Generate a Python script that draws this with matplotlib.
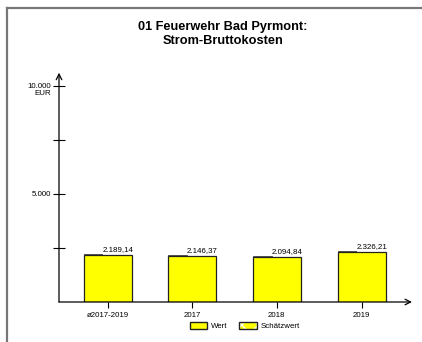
import matplotlib
matplotlib.use('Agg')
import matplotlib.pyplot as plt
from matplotlib.patches import Patch
from matplotlib.lines import Line2D

plt.rcParams['font.family'] = ['Liberation Sans', 'DejaVu Sans']

# Daten
kategorien = ['ø2017-2019', '2017', '2018', '2019']
werte = [2189.14, 2146.37, 2094.84, 2326.21]
wert_labels = ['2.189,14', '2.146,37', '2.094,84', '2.326,21']

W, H = 422, 342
fig = plt.figure(figsize=(W / 100, H / 100), dpi=100)

# Rahmen (links und oben)
fig.add_artist(Line2D([7 / W, 7 / W], [0, 1 - 8 / H], color='#777777', lw=1.6))
fig.add_artist(Line2D([7 / W, 1], [1 - 8 / H, 1 - 8 / H], color='#777777', lw=1.6))

ax = fig.add_axes([59 / W, 40 / H, (412 - 59) / W, 227 / H])
x = range(len(kategorien))
ax.bar(x, werte, width=0.567, color='#ffff00', edgecolor='#222222', linewidth=0.9)
ax.set_xlim(-0.573, 3.596)
ax.set_ylim(0, 10500)

for s in ax.spines.values():
    s.set_visible(False)

# Achsen mit Pfeilen
ax.annotate('', xy=(0, 1.01), xytext=(0, 0), xycoords='axes fraction',
            arrowprops=dict(arrowstyle='->', lw=0.9, color='black', shrinkA=0, shrinkB=0))
ax.annotate('', xy=(1.0, 0), xytext=(0, 0), xycoords='axes fraction',
            arrowprops=dict(arrowstyle='->', lw=0.9, color='black', shrinkA=0, shrinkB=0))

ax.set_yticks([2500, 5000, 7500, 10000])
ax.set_yticklabels(['', '5.000', '', '10.000'])
ax.tick_params(axis='y', direction='inout', length=8, width=0.8, labelsize=5.7, pad=2)
ax.set_xticks(list(x))
ax.set_xticklabels(kategorien)
ax.tick_params(axis='x', direction='out', length=4, width=0.8, labelsize=5.7, pad=3)
ax.annotate('EUR', xy=(0, 10000), xycoords=('axes fraction', 'data'),
            xytext=(-6, -3), textcoords='offset points', ha='right', va='top', fontsize=5.7)

# Wertbeschriftungen mit Hinweislinie
for i, (v, lab) in enumerate(zip(werte, wert_labels)):
    ax.plot([i - 0.2835, i - 0.06], [v + 40, v + 40], color='#333333', lw=0.6)
    ax.text(i - 0.06, v + 60, lab, ha='left', va='bottom', fontsize=5.7)

fig.suptitle('01 Feuerwehr Bad Pyrmont:\nStrom-Bruttokosten', x=0.528, y=0.94,
             fontsize=9.2, fontweight='bold', linespacing=1.25)

# Legende
schaetz = (Patch(facecolor='#ffff00', edgecolor='white', hatch='xx', lw=0),
           Patch(facecolor='none', edgecolor='#222222'))
handles = [Patch(facecolor='#ffff00', edgecolor='#222222'), schaetz]
fig.legend(handles=handles, labels=['Wert', 'Schätzwert'], loc='center',
           bbox_to_anchor=(0.58, 1 - 326 / H), ncol=2,
           frameon=False, fontsize=5.7, handlelength=2.2, handleheight=0.9,
           columnspacing=1.5, handletextpad=0.5)

fig.savefig('out.png', dpi=100)
